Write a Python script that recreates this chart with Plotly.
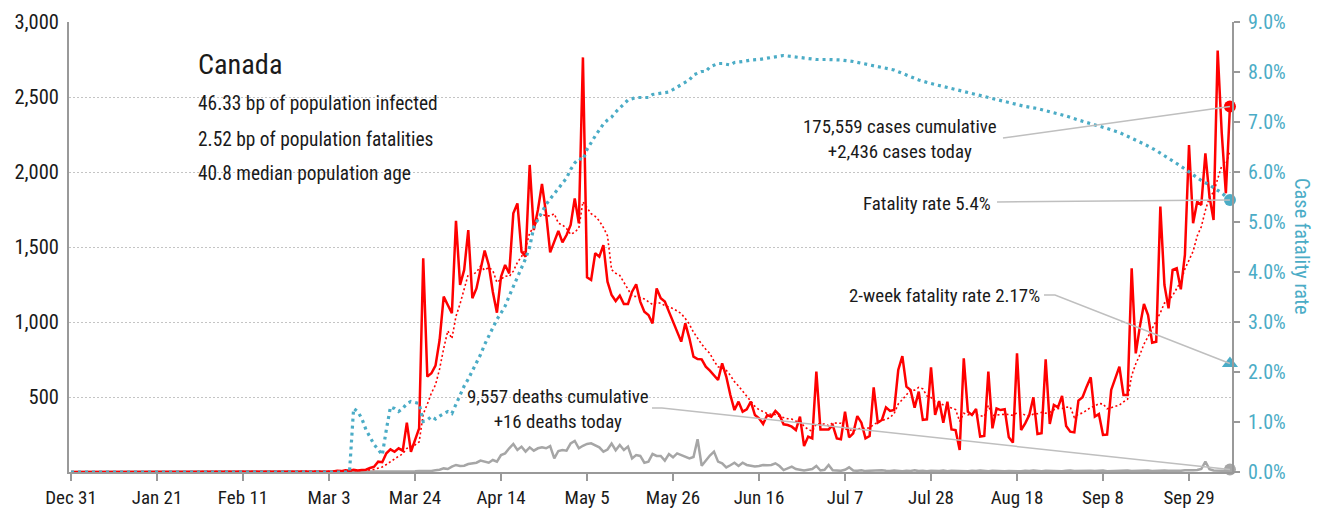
import pandas as pd
import plotly.graph_objects as go

# ---------------- data ----------------
start_date = "2019-12-31"
n_days = 284  # Dec 31 2019 .. Oct 9 2020

# daily new cases, day 0 = Dec 31 (days 0-59 are ~0)
cases_early = [0] * 27 + [1, 0, 1] + [0] * 6 + [1, 1] + [0] * 14 + [1, 2, 0, 0, 1, 0, 1, 0]
cases_from_d60 = [
    2, 4, 3, 5, 3, 9, 6, 12, 8, 15,
    10, 13, 15, 27, 35, 69, 65, 125, 151, 135,
    158, 142, 329, 135, 213, 291, 1424, 636, 658, 709,
    880, 1169, 1113, 1058, 1675, 1247, 1347, 1613, 1158, 1224,
    1350, 1476, 1380, 1200, 1062, 1302, 1380, 1324, 1724, 1791,
    1469, 1436, 2047, 1613, 1747, 1920, 1724, 1464, 1536, 1607,
    1531, 1580, 1647, 1824, 1658, 2764, 1298, 1280, 1458, 1436,
    1513, 1269, 1180, 1140, 1176, 1120, 1120, 1202, 1251, 1136,
    1069, 1047, 991, 1224, 1158, 1136, 1069, 1002, 936, 869,
    991, 891, 769, 753, 751, 702, 676, 642, 613, 724,
    636, 513, 413, 469, 402, 418, 469, 380, 358, 320,
    380, 369, 407, 380, 318, 313, 302, 280, 369, 173,
    236, 224, 669, 284, 284, 284, 313, 224, 218, 402,
    231, 258, 373, 329, 224, 240, 564, 329, 347, 431,
    407, 413, 680, 773, 569, 547, 429, 536, 347, 351,
    698, 380, 473, 329, 469, 284, 280, 147, 758, 402,
    380, 420, 236, 240, 669, 291, 424, 413, 418, 231,
    196, 791, 280, 324, 380, 498, 253, 258, 751, 320,
    447, 431, 507, 307, 269, 264, 476, 498, 569, 631,
    369, 387, 247, 250, 547, 624, 702, 513, 513, 1358,
    791, 969, 1120, 1047, 862, 869, 1769, 1247, 1091, 1347,
    1358, 1218, 1447, 2180, 1658, 1802, 1780, 2124, 1836, 1680,
    2809, 2258, 1858, 2436,
]

# daily deaths, day 0 = Dec 31
deaths_early = [0] * 69 + [1, 0, 0, 0, 1, 0, 1, 3, 2, 4, 5]
deaths_from_d80 = [
    2, 3, 4, 4, 5, 6, 5, 8, 7, 12,
    15, 24, 20, 36, 47, 40, 42, 53, 58, 62,
    76, 70, 62, 80, 69, 113, 124, 158, 187, 147,
    169, 136, 164, 142, 158, 164, 158, 173, 91, 140,
    147, 142, 191, 207, 158, 175, 187, 191, 180, 164,
    136, 150, 190, 145, 180, 147, 169, 91, 113, 107,
    62, 69, 120, 107, 107, 76, 120, 98, 124, 113,
    102, 91, 100, 218, 42, 80, 110, 136, 69, 58,
    31, 45, 62, 40, 62, 47, 40, 36, 40, 47,
    45, 47, 58, 40, 13, 24, 36, 20, 13, 10,
    15, 20, 40, 10, 15, 47, 12, 10, 8, 15,
    31, 10, 8, 12, 6, 9, 10, 7, 12, 8,
    6, 10, 8, 5, 9, 7, 11, 6, 8, 5,
    9, 6, 7, 10, 5, 8, 6, 9, 7, 5,
    8, 6, 10, 7, 5, 9, 6, 8, 5, 7,
    6, 9, 5, 8, 6, 10, 7, 5, 8, 6,
    9, 7, 5, 8, 10, 6, 7, 9, 5, 8,
    6, 8, 10, 5, 7, 9, 6, 8, 10, 7,
    9, 6, 8, 10, 7, 9, 8, 10, 9, 7,
    10, 8, 12, 9, 11, 13, 20, 70, 18, 10,
    12, 9, 8, 16,
]

# case fatality rate (%) read at these day offsets
cfr_days = [0, 68, 69, 70, 71, 72, 73, 74, 75, 76, 77, 78, 79, 80, 81, 82, 83, 84, 85,
            86, 87, 88, 89, 90, 91, 92, 93, 94, 95, 96, 97, 98, 99, 100, 101, 102, 103,
            104, 105, 106, 107, 108, 109, 110, 111, 112, 113, 114, 115, 116, 117, 118,
            119, 120, 121, 122, 123, 124, 125, 126, 127, 128, 129, 130, 131, 132, 133,
            134, 135, 136, 138, 140, 141, 142, 144, 146, 147, 149, 150, 151, 152, 154,
            155, 156, 158, 159, 161, 162, 164, 166, 168, 170, 172, 174, 176, 178, 180,
            182, 185, 188, 191, 194, 197, 201, 204, 207, 210, 214, 217, 220, 223, 227,
            230, 233, 236, 240, 243, 246, 249, 253, 256, 259, 262, 265, 268, 270, 272,
            274, 276, 278, 280, 281, 282, 283]
cfr_pct = [0, 0, 1.27, 1.21, 1.07, 0.85, 0.70, 0.55, 0.45, 0.34, 0.85, 1.30, 1.27, 1.21,
           1.27, 1.37, 1.41, 1.39, 1.37, 1.01, 1.04, 1.11, 1.06, 1.12, 1.17, 1.21, 1.17,
           1.35, 1.55, 1.72, 1.86, 2.02, 2.16, 2.35, 2.55, 2.72, 2.90, 3.05, 3.18, 3.32,
           3.52, 3.70, 3.90, 4.08, 4.27, 4.50, 4.90, 5.05, 5.20, 5.35, 5.46, 5.56, 5.66,
           5.76, 5.88, 6.05, 6.18, 6.27, 6.24, 6.45, 6.60, 6.72, 6.84, 6.96, 7.04, 7.10,
           7.20, 7.28, 7.36, 7.44, 7.49, 7.49, 7.49, 7.55, 7.58, 7.60, 7.65, 7.74, 7.79,
           7.84, 7.94, 8.01, 8.01, 8.10, 8.17, 8.17, 8.14, 8.19, 8.21, 8.24, 8.25, 8.28,
           8.31, 8.33, 8.31, 8.29, 8.27, 8.25, 8.25, 8.24, 8.21, 8.16, 8.12, 8.04, 7.94,
           7.84, 7.77, 7.69, 7.62, 7.56, 7.50, 7.42, 7.36, 7.31, 7.27, 7.19, 7.12, 7.04,
           6.97, 6.87, 6.79, 6.68, 6.56, 6.43, 6.28, 6.17, 6.06, 5.95, 5.83, 5.74, 5.64,
           5.58, 5.51, 5.44]

two_week_cfr_pct = 2.17
cases_cumulative = 175559
deaths_cumulative = 9557

tick_days = [0, 21, 42, 63, 84, 105, 126, 147, 168, 189, 210, 231, 252, 273]
tick_labels = ["Dec 31", "Jan 21", "Feb 11", "Mar 3", "Mar 24", "Apr 14", "May 5",
               "May 26", "Jun 16", "Jul 7", "Jul 28", "Aug 18", "Sep 8", "Sep 29"]
left_ticks = [500, 1000, 1500, 2000, 2500, 3000]
right_ticks = [0, 1, 2, 3, 4, 5, 6, 7, 8, 9]

# ---------------- build ----------------
base = pd.Timestamp(start_date)
dates = [base + pd.Timedelta(days=i) for i in range(n_days)]
cases = pd.Series(cases_early + cases_from_d60, index=dates)
deaths = pd.Series(deaths_early + deaths_from_d80, index=dates)
avg7 = cases.rolling(7, min_periods=1).mean()
cfr_dates = [base + pd.Timedelta(days=d) for d in cfr_days]

FONT = "Roboto Condensed, Liberation Sans Narrow, sans-serif"
RED = "#ff0000"
BLUE = "#4bacc6"
GREY = "#a6a6a6"
LEAD = "#bfbfbf"
INK = "#1a1a1a"

fig = go.Figure()
fig.add_trace(go.Scatter(x=dates, y=deaths.values, mode="lines",
                         line=dict(color=GREY, width=2.5), hoverinfo="skip"))
fig.add_trace(go.Scatter(x=dates, y=cases.values, mode="lines",
                         line=dict(color=RED, width=2.5), hoverinfo="skip"))
fig.add_trace(go.Scatter(x=dates, y=avg7.values, mode="lines",
                         line=dict(color=RED, width=1.6, dash="2px,2.5px"), hoverinfo="skip"))
fig.add_trace(go.Scatter(x=cfr_dates, y=cfr_pct, mode="lines", yaxis="y2",
                         line=dict(color=BLUE, width=3.2, dash="3px,4px"), hoverinfo="skip"))
# end markers
last = dates[-1]
fig.add_trace(go.Scatter(x=[last], y=[cases.iloc[-1]], mode="markers", cliponaxis=False,
                         marker=dict(color=RED, size=12), hoverinfo="skip"))
fig.add_trace(go.Scatter(x=[last], y=[deaths.iloc[-1]], mode="markers", cliponaxis=False,
                         marker=dict(color=GREY, size=12), hoverinfo="skip"))
fig.add_trace(go.Scatter(x=[last], y=[cfr_pct[-1]], mode="markers", yaxis="y2", cliponaxis=False,
                         marker=dict(color=BLUE, size=12), hoverinfo="skip"))
fig.add_trace(go.Scatter(x=[last], y=[two_week_cfr_pct], mode="markers", yaxis="y2",
                         cliponaxis=False,
                         marker=dict(color=BLUE, size=14, symbol="triangle-up"), hoverinfo="skip"))

# ---------------- layout helpers (pixel placement of labels) ----------------
L, R, T, B = 69, 92, 22, 40
W, H = 1324, 512
PW, PH = W - L - R, H - T - B


def px(xp):
    return (xp - L) / PW


def py(yp):
    return (H - B - yp) / PH


x_end = (n_days - 1 + 0.5) / n_days  # paper x of last day

annotations = []


def text(xp, yp, s, size=18.9, anchor="left", color=INK):
    annotations.append(dict(xref="paper", yref="paper", x=px(xp), y=py(yp), text=s,
                            showarrow=False, xanchor=anchor, yanchor="middle",
                            align="center", font=dict(family=FONT, size=size, color=color)))


text(196, 65, "Canada", size=28.3)
text(196, 104, "46.33 bp of population infected", size=19.4)
text(196, 139, "2.52 bp of population fatalities", size=19.4)
text(196, 174, "40.8 median population age", size=19.4)
text(900, 139, f"{cases_cumulative:,} cases cumulative<br>+{cases.iloc[-1]:,} cases today",
     anchor="center")
text(927, 203, f"Fatality rate {cfr_pct[-1]:.1f}%", anchor="center")
text(944, 296, f"2-week fatality rate {two_week_cfr_pct:.2f}%", anchor="center")
text(558, 409, f"{deaths_cumulative:,} deaths cumulative<br>+{deaths.iloc[-1]} deaths today",
     anchor="center")
annotations.append(dict(xref="paper", yref="paper", x=px(1302), y=py(246),
                        text="Case fatality rate", textangle=90, showarrow=False,
                        xanchor="center", yanchor="middle",
                        font=dict(family=FONT, size=20.4, color=BLUE)))

shapes = []


def lead(points):
    path = "M " + " L ".join(f"{a},{b}" for a, b in points)
    shapes.append(dict(type="path", xref="paper", yref="paper", path=path,
                       line=dict(color=LEAD, width=1.5)))


lead([(px(1003), py(138)), (x_end, cases.iloc[-1] / 3000)])
lead([(px(997), py(202)), (x_end, cfr_pct[-1] / 9)])
lead([(px(1044), py(295)), (px(1055), py(295)), (x_end, two_week_cfr_pct / 9)])
lead([(px(652), py(408)), (px(662), py(408)), (x_end, deaths.iloc[-1] / 3000)])

fig.update_layout(
    width=W, height=H,
    margin=dict(l=L, r=R, t=T, b=B, autoexpand=False),
    paper_bgcolor="white", plot_bgcolor="white",
    showlegend=False,
    font=dict(family=FONT, size=17, color=INK),
    xaxis=dict(type="date", automargin=False,
               range=[base - pd.Timedelta(hours=12), base + pd.Timedelta(hours=24 * (n_days - 1) + 12)],
               tickvals=[base + pd.Timedelta(days=d) for d in tick_days], ticktext=tick_labels,
               showgrid=False, showline=True, linecolor="#999999", linewidth=2,
               ticks="outside", ticklen=7, tickcolor="#999999", tickwidth=1.5,
               tickfont=dict(family=FONT, size=19, color=INK), zeroline=False),
    yaxis=dict(range=[0, 3000], tickvals=left_ticks, tickformat=",", automargin=False,
               showgrid=True, gridcolor="#c4c4c4", griddash="2px,2px", gridwidth=1.2,
               showline=True, linecolor="#999999", linewidth=2, zeroline=False,
               ticks="", ticklabelstandoff=4,
               tickfont=dict(family=FONT, size=20.5, color=INK)),
    yaxis2=dict(range=[0, 9], overlaying="y", side="right", tickvals=right_ticks,
                ticktext=[f"{v:.1f}%" for v in right_ticks], showgrid=False, automargin=False,
                showline=True, linecolor="#999999", linewidth=2, zeroline=False,
                ticks="outside", ticklen=6, tickcolor="#999999", tickwidth=1.5,
                ticklabelstandoff=4,
                tickfont=dict(family=FONT, size=20, color=BLUE)),
    annotations=annotations,
    shapes=shapes,
)

fig.write_html("out.html", config={"displayModeBar": False},
               post_script="document.body.style.margin='0px';document.body.style.padding='0px';")
